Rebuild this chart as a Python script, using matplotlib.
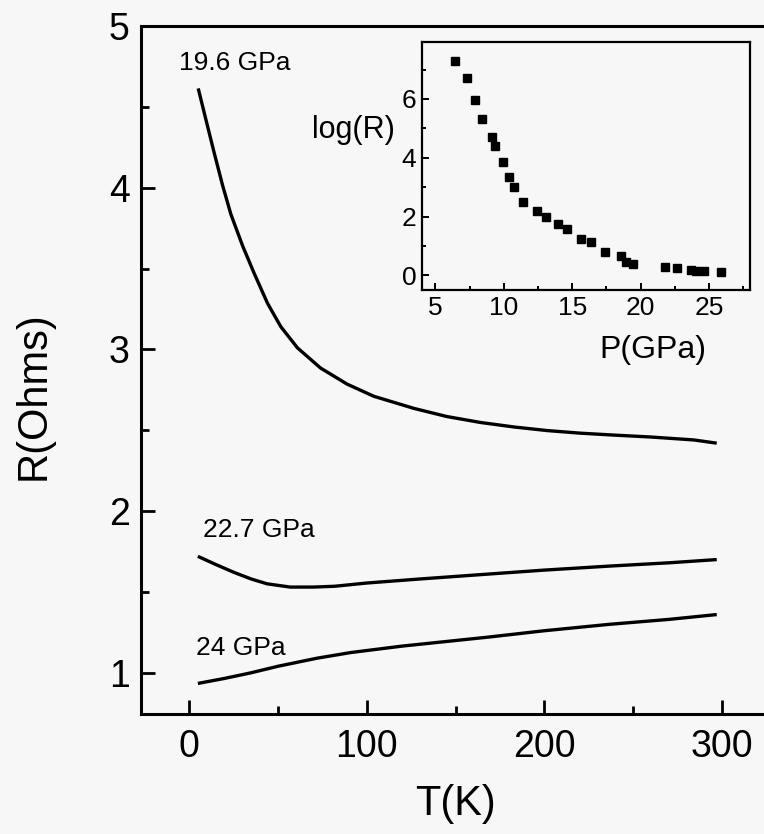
import numpy as np
import matplotlib.pyplot as plt
from matplotlib.ticker import MultipleLocator

plt.rcParams['font.family'] = ['Liberation Sans', 'DejaVu Sans']

# R(T) curves at three pressures
T_196 = [5.2, 9.6, 14.2, 18.9, 23.6, 30.2, 36.7, 44.2, 51.7, 61, 74, 89, 104, 126.6, 145,
         164, 183, 201.5, 220, 239, 260, 284, 297]
R_196 = [4.614, 4.418, 4.215, 4.015, 3.835, 3.64, 3.47, 3.285, 3.14, 3.01, 2.885, 2.785, 2.71,
         2.635, 2.585, 2.548, 2.52, 2.498, 2.482, 2.47, 2.458, 2.44, 2.42]

T_227 = [5, 15, 25.5, 35, 44, 57, 70, 82, 100, 130, 168, 200, 237, 270, 297]
R_227 = [1.72, 1.67, 1.62, 1.58, 1.55, 1.53, 1.53, 1.535, 1.555, 1.58, 1.61, 1.635, 1.66, 1.68, 1.70]

T_24 = [5, 20, 35, 50, 72, 91, 120, 168, 200, 237, 270, 297]
R_24 = [0.934, 0.965, 1.00, 1.04, 1.09, 1.125, 1.165, 1.22, 1.26, 1.30, 1.33, 1.36]

labels = ['19.6 GPa', '22.7 GPa', '24 GPa']

# log(R) vs pressure for the inset
P = [6.46, 7.31, 7.92, 8.38, 9.14, 9.38, 9.96, 10.38, 10.72, 11.37, 12.42, 13.08, 14.00,
     14.59, 15.61, 16.41, 17.41, 18.55, 18.92, 19.48, 21.79, 22.64, 23.66, 24.03, 24.64, 25.85]
logR = [7.31, 6.72, 5.95, 5.32, 4.69, 4.41, 3.86, 3.33, 3.02, 2.49, 2.19, 1.99, 1.75,
        1.56, 1.22, 1.14, 0.80, 0.65, 0.46, 0.39, 0.28, 0.25, 0.19, 0.16, 0.16, 0.11]

bg = '#f7f7f7'
fig = plt.figure(figsize=(7.64, 8.34), dpi=100, facecolor=bg)
W, H = 764, 834

ax = fig.add_axes([141 / W, 1 - 714 / H, 1 - 141 / W, (714 - 26) / H])
ax.set_facecolor(bg)
for T, R in [(T_196, R_196), (T_227, R_227), (T_24, R_24)]:
    ax.plot(T, R, 'k-', lw=2.4, solid_capstyle='butt', solid_joinstyle='round')

ax.text(-5.6, 4.77, labels[0], fontsize=19, va='center', ha='left')
ax.text(7.9, 1.88, labels[1], fontsize=19, va='center', ha='left')
ax.text(3.9, 1.155, labels[2], fontsize=19, va='center', ha='left')

ax.set_xlim(-27, 323.6)
ax.set_ylim(0.745, 5.0)
ax.xaxis.set_major_locator(MultipleLocator(100))
ax.xaxis.set_minor_locator(MultipleLocator(50))
ax.yaxis.set_major_locator(MultipleLocator(1))
ax.yaxis.set_minor_locator(MultipleLocator(0.5))
ax.tick_params(which='both', direction='in', width=2, top=False, right=False)
ax.tick_params(which='major', length=10, labelsize=27)
ax.tick_params(axis='x', which='major', pad=11)
ax.tick_params(axis='y', which='major', pad=8)
ax.tick_params(which='minor', length=6)
ax.spines['right'].set_visible(False)
for s in ['left', 'bottom', 'top']:
    ax.spines[s].set_linewidth(2.2)

fig.text(456 / W, 1 - 804 / H, 'T(K)', fontsize=30, ha='center', va='center')
fig.text(34 / W, 1 - 396 / H, 'R(Ohms)', fontsize=30, ha='center', va='center', rotation=90)

# inset
axi = fig.add_axes([421.7 / W, 1 - 290 / H, (750 - 421.7) / W, (290 - 41.7) / H])
axi.set_facecolor(bg)
axi.plot(P, logR, 'ks', ms=6)
axi.set_xlim(4, 28)
axi.set_ylim(-0.5, 7.95)
axi.xaxis.set_major_locator(MultipleLocator(5))
axi.xaxis.set_minor_locator(MultipleLocator(2.5))
axi.yaxis.set_major_locator(MultipleLocator(2))
axi.yaxis.set_minor_locator(MultipleLocator(1))
axi.tick_params(which='both', direction='in', width=1.4, top=False, right=False)
axi.tick_params(which='major', length=5, labelsize=19, pad=4)
axi.tick_params(which='minor', length=3)
for s in axi.spines.values():
    s.set_linewidth(1.6)

fig.text(395 / W, 1 - 130 / H, 'log(R)', fontsize=22, ha='right', va='center')
fig.text(653 / W, 1 - 350 / H, 'P(GPa)', fontsize=23, ha='center', va='center')

fig.savefig('out.png', dpi=100, facecolor=bg)
